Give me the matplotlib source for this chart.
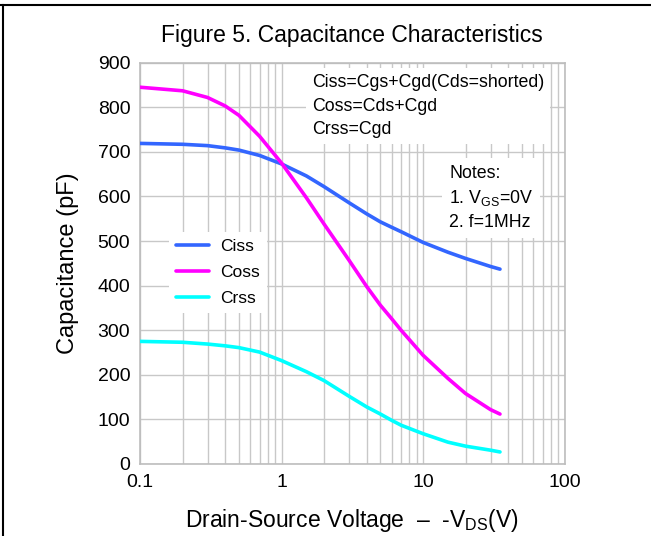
import matplotlib
matplotlib.use("Agg")
import matplotlib.pyplot as plt
from matplotlib.lines import Line2D
from matplotlib.ticker import LogLocator, FixedLocator, NullFormatter

plt.rcParams['font.family'] = ['Liberation Sans', 'DejaVu Sans']
plt.rcParams['mathtext.fontset'] = 'custom'
plt.rcParams['mathtext.rm'] = 'Liberation Sans'

# drain-source voltage (V)
vds = [0.1, 0.2, 0.3, 0.4, 0.5, 0.7, 1, 1.5, 2, 3, 4, 5, 6, 7, 10, 15, 20, 30, 35]
# capacitances (pF)
ciss = [719, 717, 714, 709, 704, 692, 673, 646, 622, 586, 561, 543, 531, 521, 497, 475, 461, 443, 437]
coss = [845, 837, 822, 803, 782, 735, 675, 597, 538, 457, 398, 356, 326, 300, 244, 192, 158, 122, 112]
crss = [275, 273, 269, 265, 261, 251, 232, 207, 187, 152, 128, 112, 98, 87, 68, 49, 40, 31, 27]

series_names = ["Ciss", "Coss", "Crss"]
series_colors = ["#3366FF", "#FF00FF", "#00FFFF"]

fig = plt.figure(figsize=(6.51, 5.36), dpi=100)
ax = fig.add_axes([140 / 651, 1 - 464 / 536, 424.5 / 651, 401.3 / 536])

for vals, name, col in zip([ciss, coss, crss], series_names, series_colors):
    ax.plot(vds, vals, color=col, lw=2.6, label=name, solid_capstyle='round', zorder=3)

ax.set_xscale('log')
ax.set_xlim(0.1, 100)
ax.set_ylim(0, 900)
ax.yaxis.set_major_locator(FixedLocator(range(0, 901, 100)))
ax.xaxis.set_minor_locator(LogLocator(base=10, subs=range(2, 10)))
ax.xaxis.set_minor_formatter(NullFormatter())
ax.set_xticks([0.1, 1, 10, 100])
ax.set_xticklabels(["0.1", "1", "10", "100"])

gcol = "#c8c8c8"
ax.grid(True, which='major', color=gcol, lw=1)
ax.grid(True, which='minor', axis='x', color=gcol, lw=1)
ax.set_axisbelow(True)
for s in ax.spines.values():
    s.set_color("#bdbdbd")
    s.set_linewidth(1.2)
ax.tick_params(which='both', length=0, labelsize=14)
ax.tick_params(axis='y', pad=7)
ax.tick_params(axis='x', pad=7)

ax.set_title("Figure 5. Capacitance Characteristics", fontsize=16.5, pad=15)
ax.set_ylabel("Capacitance (pF)", fontsize=17, labelpad=13)
ax.set_xlabel("Drain-Source Voltage  \u2013  -V$_{\\mathrm{DS}}$(V)", fontsize=16.5, labelpad=12)

leg = ax.legend(loc='upper left', bbox_to_anchor=(0.047, 0.600), fontsize=12.5,
                frameon=True, fancybox=False, framealpha=1, edgecolor='none',
                handlelength=1.9, labelspacing=0.62, borderpad=0.4, handletextpad=0.65)
leg.get_frame().set_facecolor('white')

ax.text(0.405, 0.972, "Ciss=Cgs+Cgd(Cds=shorted)\nCoss=Cds+Cgd\nCrss=Cgd",
        transform=ax.transAxes, fontsize=12.8, va='top', ha='left', linespacing=1.52,
        bbox=dict(facecolor='white', edgecolor='none', pad=4), zorder=4)
ax.text(0.728, 0.745, "Notes:\n1. V$_{\\mathrm{GS}}$=0V\n2. f=1MHz",
        transform=ax.transAxes, fontsize=12.8, va='top', ha='left', linespacing=1.42,
        bbox=dict(facecolor='white', edgecolor='none', pad=5), zorder=4)

# outer frame lines (top and left)
fig.add_artist(Line2D([0, 1], [1 - 5 / 536, 1 - 5 / 536], color='black', lw=1.5))
fig.add_artist(Line2D([3 / 651, 3 / 651], [0, 1 - 5 / 536], color='black', lw=1.5))

fig.savefig("out.png", dpi=100)
